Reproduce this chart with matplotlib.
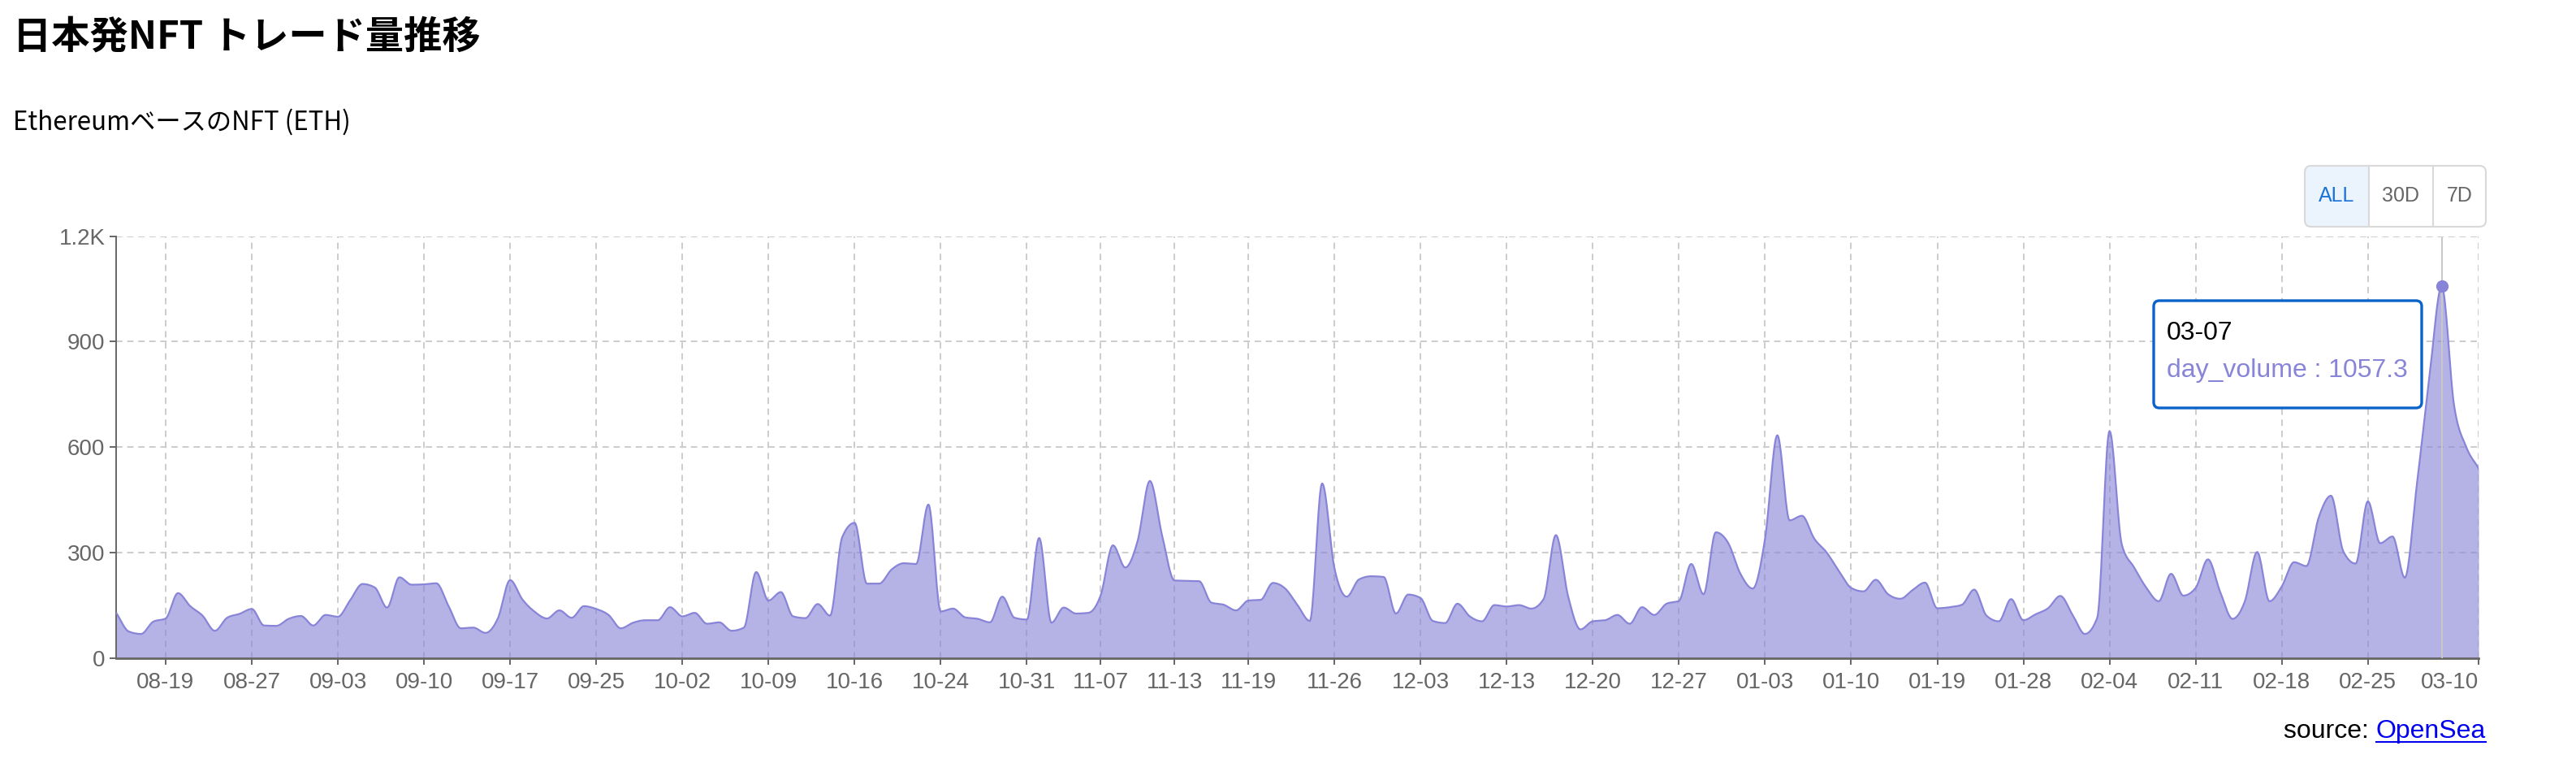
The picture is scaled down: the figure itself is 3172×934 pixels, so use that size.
import numpy as np
import matplotlib.pyplot as plt
from matplotlib.patches import FancyBboxPatch, Rectangle
from matplotlib.lines import Line2D

plt.rcParams['font.family'] = ['Noto Sans CJK JP', 'DejaVu Sans']

# ETH volume per day
day_volume = [128, 76, 69, 104, 113, 185, 148, 121, 78, 115,
              126, 140, 93, 92, 112, 120, 93, 123, 118, 165,
              211, 201, 144, 230, 209, 210, 213, 148, 85, 87,
              72, 113, 222, 167, 132, 113, 136, 115, 148, 140,
              123, 85, 101, 108, 108, 145, 119, 129, 98, 102,
              78, 87, 245, 164, 188, 119, 114, 154, 121, 345,
              385, 212, 212, 252, 270, 268, 437, 133, 141, 116,
              112, 102, 175, 115, 110, 342, 101, 144, 127, 129,
              179, 321, 258, 333, 504, 348, 221, 220, 219, 158,
              152, 136, 164, 166, 214, 198, 151, 106, 497, 256,
              175, 224, 233, 231, 127, 181, 171, 106, 100, 155,
              119, 105, 151, 147, 151, 141, 168, 350, 175, 82,
              105, 108, 123, 98, 145, 123, 155, 163, 268, 182,
              358, 328, 240, 198, 340, 634, 392, 405, 340, 301,
              248, 200, 190, 223, 182, 169, 194, 215, 142, 145,
              152, 195, 121, 105, 168, 108, 125, 142, 177, 123,
              69, 115, 646, 323, 258, 200, 162, 240, 178, 200,
              281, 188, 112, 162, 302, 162, 204, 273, 262, 400,
              462, 304, 269, 446, 327, 346, 229, 500, 800, 1057.3,
              720, 600, 540]

tick_labels = ['08-19', '08-27', '09-03', '09-10', '09-17', '09-25', '10-02',
               '10-09', '10-16', '10-24', '10-31', '11-07', '11-13', '11-19',
               '11-26', '12-03', '12-13', '12-20', '12-27', '01-03', '01-10',
               '01-19', '01-28', '02-04', '02-11', '02-18', '02-25', '03-10']
tick_index = [4, 11, 18, 25, 32, 39, 46, 53, 60, 67, 74, 80, 86, 92,
              99, 106, 113, 120, 127, 134, 141, 148, 155, 162, 169, 176, 183, 192]
y_ticks = [0, 300, 600, 900, 1200]
y_labels = ['0', '300', '600', '900', '1.2K']
tip_index = 189
tip_date = '03-07'

purple = '#8884d8'

x = np.arange(len(day_volume), dtype=float)
y = np.array(day_volume, dtype=float)

# monotone cubic curve (same idea as d3 curveMonotoneX)
s = np.diff(y)
m = np.zeros(len(y))
m[0], m[-1] = s[0], s[-1]
for i in range(1, len(y) - 1):
    p = (s[i - 1] + s[i]) / 2
    m[i] = (np.sign(s[i - 1]) + np.sign(s[i])) * min(abs(s[i - 1]), abs(s[i]), 0.5 * abs(p))
t = np.linspace(0, 1, 20)[:-1]
xs, ys = [], []
for i in range(len(y) - 1):
    h00 = 2 * t**3 - 3 * t**2 + 1
    h10 = t**3 - 2 * t**2 + t
    h01 = -2 * t**3 + 3 * t**2
    h11 = t**3 - t**2
    xs.append(x[i] + t)
    ys.append(h00 * y[i] + h10 * m[i] + h01 * y[i + 1] + h11 * m[i + 1])
xs = np.concatenate(xs + [[x[-1]]])
ys = np.concatenate(ys + [[y[-1]]])

fig = plt.figure(figsize=(31.72, 9.34), dpi=100)
ax = fig.add_axes([0.0452, 0.1328, 0.9170, 0.5560])

ax.fill_between(xs, ys, 0, color=purple, alpha=0.62, lw=0, zorder=2)
ax.plot(xs, ys, color=purple, lw=1.6, zorder=3)

ax.set_xlim(0, len(y) - 1)
ax.set_ylim(0, 1200)
ax.set_xticks(tick_index)
ax.set_xticklabels(tick_labels)
ax.set_yticks(y_ticks)
ax.set_yticklabels(y_labels)
ax.get_xticklabels()[-1].set_ha('right')
for lab in ax.get_xticklabels() + ax.get_yticklabels():
    lab.set_family('Liberation Sans')

ax.grid(True, color='#cccccc', lw=1.4, ls=(0, (4, 3)), zorder=0)
ax.set_axisbelow(True)
for side in ['top', 'right']:
    ax.spines[side].set_visible(False)
ax.spines['left'].set_color('#666666')
ax.spines['left'].set_linewidth(1.4)
ax.spines['bottom'].set_color('#666666')
ax.spines['bottom'].set_linewidth(2)
ax.tick_params(axis='both', direction='out', length=6, width=1.4, color='#666666',
               labelcolor='#666666', labelsize=20)
ax.tick_params(axis='x', pad=6)
ax.tick_params(axis='y', pad=4)

# hover state: cursor line, active dot and tooltip
ax.axvline(tip_index, color='#c8c8c8', lw=1.4, zorder=4)
ax.plot(tip_index, y[tip_index], 'o', color=purple, ms=10, zorder=5, clip_on=False)

H = 934
tip = FancyBboxPatch((2652, H - 502), 330, 132, boxstyle='round,pad=0,rounding_size=7',
                     facecolor='white', edgecolor='#0a63c9', lw=2.4, transform=None, zorder=10)
fig.patches.append(tip)
fig.text(2668 / 3172, 1 - 410 / H, tip_date, fontsize=23, color='black',
         family='Liberation Sans', va='center', zorder=11)
fig.text(2668 / 3172, 1 - 456 / H, f'day_volume : {day_volume[tip_index]}', fontsize=23,
         color=purple, family='Liberation Sans', va='center', zorder=11)

# titles
fig.text(16 / 3172, 1 - 45 / H, '日本発NFT トレード量推移', fontsize=34, weight='bold', va='center')
fig.text(16 / 3172, 1 - 150 / H, 'EthereumベースのNFT (ETH)', fontsize=22.5, va='center')

# range buttons
bx, by, bw, bh = 2838, H - 279, 223, 75
fig.patches.append(FancyBboxPatch((bx, by), 79, bh, boxstyle='round,pad=0,rounding_size=8',
                                  facecolor='#ebf3fc', edgecolor='none', transform=None))
fig.patches.append(Rectangle((bx + 40, by), 39, bh, facecolor='#ebf3fc', edgecolor='none',
                             transform=None))
fig.patches.append(FancyBboxPatch((bx, by), bw, bh, boxstyle='round,pad=0,rounding_size=8',
                                  facecolor='none', edgecolor='#d9d9d9', lw=1.5, transform=None))
for sx in [bx + 79, bx + 158]:
    fig.lines.append(Line2D([sx, sx], [by, by + bh], color='#d9d9d9', lw=1.5, transform=None))
for label, cx, col in [('ALL', bx + 39.5, '#1a73d9'), ('30D', bx + 118.5, '#666666'),
                       ('7D', bx + 190.5, '#666666')]:
    fig.text(cx / 3172, (by + bh / 2) / H, label, fontsize=18, color=col,
             family='Liberation Sans', ha='center', va='center')

# source link
link = fig.text(3061 / 3172, 1 - 900 / H, 'OpenSea', fontsize=23, color='#0000ee',
                family='Liberation Sans', ha='right', va='center')
fig.canvas.draw()
bb = link.get_window_extent()
fig.text(bb.x0 / 3172, 1 - 900 / H, 'source: ', fontsize=23, color='black',
         family='Liberation Sans', ha='right', va='center')
fig.lines.append(Line2D([bb.x0, bb.x1], [bb.y0 + 2, bb.y0 + 2], color='#0000ee', lw=1.5,
                        transform=None))

fig.savefig('out.png', dpi=100)
